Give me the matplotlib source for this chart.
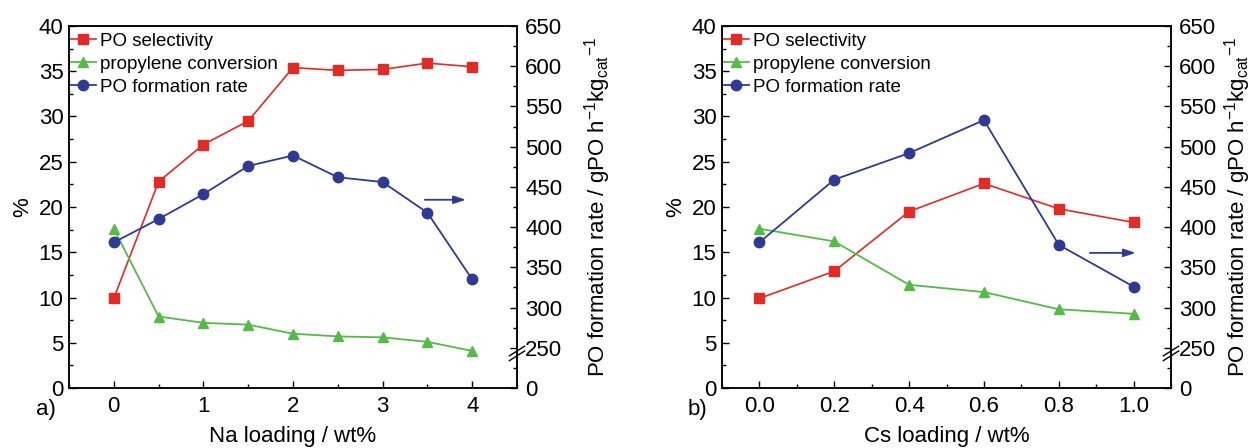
import numpy as np
import matplotlib
matplotlib.use("Agg")
import matplotlib.pyplot as plt
from matplotlib.ticker import MultipleLocator, FixedLocator
import matplotlib.transforms as mtransforms

plt.rcParams['font.family'] = ['Liberation Sans', 'DejaVu Sans']
plt.rcParams['mathtext.fontset'] = 'custom'
plt.rcParams['mathtext.rm'] = 'Liberation Sans'
plt.rcParams['mathtext.it'] = 'Liberation Sans'

# --- DATA ---
na_loading = [0, 0.5, 1, 1.5, 2, 2.5, 3, 3.5, 4]
na_selectivity = [9.9, 22.8, 26.9, 29.5, 35.4, 35.1, 35.2, 35.9, 35.5]
na_conversion = [17.6, 7.9, 7.2, 7.0, 6.0, 5.7, 5.6, 5.1, 4.1]
na_rate = [381, 410, 441, 476, 489, 462, 456, 418, 335]

cs_loading = [0.0, 0.2, 0.4, 0.6, 0.8, 1.0]
cs_selectivity = [9.9, 12.9, 19.5, 22.6, 19.8, 18.3]
cs_conversion = [17.6, 16.2, 11.4, 10.6, 8.7, 8.2]
cs_rate = [381, 459, 492, 533, 378, 326]

rate_ticks = [200, 250, 300, 350, 400, 450, 500, 550, 600, 650]
rate_ticklabels = ['0', '250', '300', '350', '400', '450', '500', '550', '600', '650']

RED = '#E42A25'
GREEN = '#55BB47'
BLUE = '#2E3A96'
FS = 16

fig = plt.figure(figsize=(12.57, 4.48), dpi=100)


def make_panel(rect, x, sel, conv, rate, xlim, xmajor, xminor, xfmt, xlabel, tag, tagx, arrow, rpad):
    ax = fig.add_axes(rect)
    ax2 = ax.twinx()
    l1, = ax.plot(x, sel, '-s', color=RED, lw=1.2, ms=6.5, label='PO selectivity')
    l2, = ax.plot(x, conv, '-^', color=GREEN, lw=1.3, ms=7.5, label='propylene conversion')
    l3, = ax2.plot(x, rate, '-o', color=BLUE, lw=1.3, ms=7.5, label='PO formation rate')

    ax.set_xlim(*xlim)
    ax.set_ylim(0, 40)
    ax2.set_ylim(200, 650)
    ax.xaxis.set_major_locator(MultipleLocator(xmajor))
    ax.xaxis.set_minor_locator(MultipleLocator(xminor))
    ax.xaxis.set_major_formatter(xfmt)
    ax.yaxis.set_major_locator(MultipleLocator(5))
    ax.yaxis.set_minor_locator(MultipleLocator(2.5))
    ax2.yaxis.set_major_locator(FixedLocator(rate_ticks))
    ax2.set_yticklabels(rate_ticklabels)
    ax2.yaxis.set_minor_locator(MultipleLocator(25))

    ax.tick_params(axis='both', which='major', direction='in', length=5, width=1, labelsize=FS)
    ax.tick_params(axis='both', which='minor', direction='in', length=3, width=1)
    ax.tick_params(axis='x', which='major', pad=6)
    ax.tick_params(axis='y', which='major', pad=4)
    ax2.tick_params(axis='y', which='major', direction='in', length=5, width=1, labelsize=FS, pad=6)
    ax2.tick_params(axis='y', which='minor', direction='in', length=3, width=1)
    for a in (ax, ax2):
        for s in a.spines.values():
            s.set_linewidth(1.1)

    ax.set_xlabel(xlabel, fontsize=FS, labelpad=6)
    ax.set_ylabel('%', fontsize=FS, labelpad=4)
    ax2.set_ylabel(r'PO formation rate / gPO h$^{-1}$kg$_{\mathrm{cat}}$$^{-1}$', fontsize=FS, labelpad=rpad)

    ax.legend(handles=[l1, l2, l3], loc='upper left', bbox_to_anchor=(-0.004, 0.99), frameon=False,
              fontsize=13.5, handlelength=1.4, handletextpad=0.2, labelspacing=0.32,
              borderaxespad=0.0, borderpad=0.15)

    # axis break on right spine
    trans = mtransforms.blended_transform_factory(ax2.transAxes, ax2.transData)
    for off in (0, -6):
        ax2.plot([0.983, 1.017], [240 + off, 252 + off], color='black', lw=1.0,
                 transform=trans, clip_on=False)

    ax2.annotate('', xy=(arrow[1], arrow[2]), xytext=(arrow[0], arrow[2]),
                 arrowprops=dict(arrowstyle='-|>,head_length=0.6,head_width=0.2', color=BLUE,
                                 lw=1.3, mutation_scale=12))

    fig.text(tagx, 1 - 409 / 448, tag, fontsize=FS, ha='left', va='center')
    return ax, ax2


make_panel([69 / 1257, 1 - 388 / 448, 448 / 1257, 362 / 448],
           na_loading, na_selectivity, na_conversion, na_rate,
           (-0.5, 4.5), 1, 0.5, '{x:.0f}', 'Na loading / wt%', 'a)', 36 / 1257,
           (3.44, 3.96, 434), 14)

make_panel([722 / 1257, 1 - 388 / 448, 449 / 1257, 362 / 448],
           cs_loading, cs_selectivity, cs_conversion, cs_rate,
           (-0.1, 1.1), 0.2, 0.1, '{x:.1f}', 'Cs loading / wt%', 'b)', 688 / 1257,
           (0.876, 1.013, 368), 4)

fig.savefig('out.png', dpi=100)
